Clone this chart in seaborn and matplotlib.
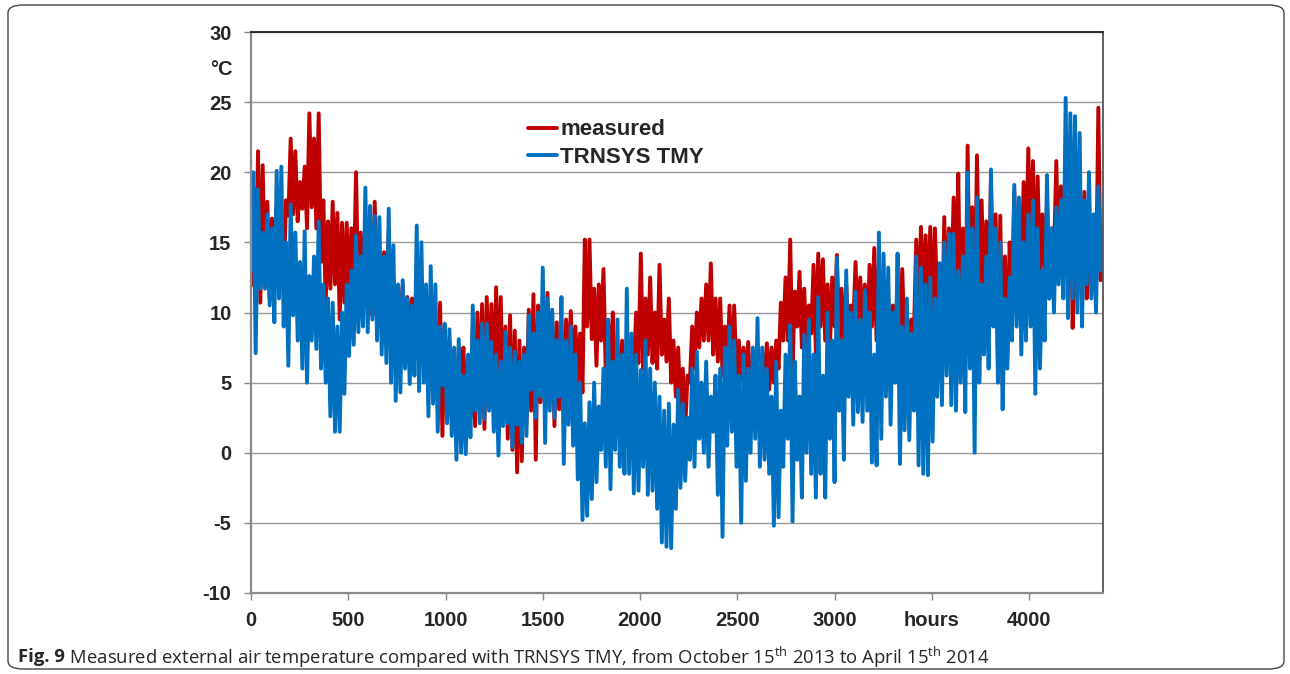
import matplotlib
matplotlib.use("Agg")
import matplotlib.pyplot as plt
import seaborn as sns
import pandas as pd
from matplotlib.patches import FancyBboxPatch
from matplotlib.transforms import blended_transform_factory

# ---- data: daily max / min (deg C), one value per day ----
meas_max = [19.0, 21.5, 20.5, 17.9, 16.7, 17.5, 16.5, 18.0, 22.4, 21.5,
            19.3, 20.4, 24.2, 22.4, 24.2, 18.0, 16.5, 17.9, 17.1, 16.4,
            16.4, 16.0, 20.0, 15.7, 16.4, 15.0, 17.9, 14.0, 14.3, 15.9,
            12.5, 11.9, 11.9, 11.1, 11.0, 11.5, 11.0, 10.5, 10.0, 9.5,
            10.7, 9.0, 8.0, 6.5, 7.5, 7.5, 6.0, 9.0, 10.0, 10.6,
            11.1, 10.6, 11.8, 11.1, 9.0, 9.8, 8.7, 8.0, 7.5, 10.2,
            11.3, 10.5, 8.5, 11.4, 10.0, 9.3, 8.5, 9.5, 10.1, 9.0,
            8.5, 15.2, 15.2, 11.7, 12.0, 13.1, 9.3, 10.0, 7.4, 8.0,
            6.1, 7.9, 10.0, 14.2, 11.0, 12.5, 10.0, 13.4, 9.5, 11.0,
            8.0, 7.5, 6.0, 5.5, 9.0, 10.0, 11.0, 12.0, 13.5, 11.0,
            11.0, 9.0, 10.5, 10.5, 8.0, 7.5, 7.9, 6.5, 7.5, 7.0,
            7.8, 7.5, 8.0, 10.7, 12.5, 15.2, 11.5, 12.9, 11.7, 10.5,
            13.4, 14.2, 13.8, 12.0, 12.5, 14.1, 11.7, 12.0, 10.5, 13.6,
            12.5, 12.0, 13.4, 14.6, 13.4, 12.0, 11.0, 10.5, 12.0, 13.1,
            10.0, 9.5, 15.2, 16.1, 15.5, 16.1, 16.0, 13.5, 16.8, 16.0,
            18.2, 19.9, 16.0, 21.9, 17.5, 21.2, 18.0, 16.5, 19.5, 17.0,
            16.9, 14.0, 15.0, 18.6, 17.0, 19.3, 21.7, 20.8, 19.7, 17.0,
            18.0, 16.0, 20.8, 19.0, 20.0, 22.0, 15.5, 17.5, 18.6, 16.0,
            16.0, 24.6, 16.0]
meas_min = [11.9, 11.1, 10.7, 12.5, 11.0, 15.1, 13.0, 12.0, 16.9, 17.0,
            16.5, 17.4, 16.0, 17.5, 16.0, 13.6, 10.7, 11.7, 12.0, 9.5,
            10.7, 11.0, 12.0, 10.7, 11.5, 10.5, 9.8, 10.0, 9.0, 10.0,
            9.5, 9.0, 8.3, 8.5, 8.0, 8.5, 7.5, 7.0, 6.0, 5.7,
            3.0, 1.2, 3.0, 2.5, 1.9, 5.1, 3.0, 2.5, 1.9, 3.0,
            1.7, 4.0, 3.5, 4.5, 2.0, 1.0, 0.2, -1.4, -0.6, 2.0,
            3.0, -0.5, 3.6, 3.0, 5.0, 1.9, 3.1, 4.0, 5.5, 5.2,
            5.0, 4.3, 9.0, 8.1, 6.2, 8.0, 5.5, 6.0, 1.7, 5.0,
            4.0, 6.2, 6.0, 6.4, 6.0, 7.0, 6.4, 6.0, 7.0, 6.5,
            5.0, 4.0, 3.0, 1.6, 5.0, 6.0, 7.5, 8.0, 8.0, 7.0,
            6.5, 5.5, 6.0, 5.0, 5.5, 5.2, 5.0, 4.0, 5.0, 5.5,
            5.5, 4.5, 5.0, 6.0, 8.0, 8.0, 6.0, 9.0, 7.5, 7.0,
            8.5, 7.0, 9.0, 8.0, 7.5, 9.0, 8.0, 7.5, 8.5, 9.0,
            8.0, 9.0, 7.5, 9.0, 8.0, 7.0, 6.5, 6.0, 8.0, 8.5,
            7.5, 7.0, 8.5, 9.0, 10.0, 9.5, 9.0, 11.0, 8.0, 10.0,
            11.0, 12.0, 8.0, 6.8, 10.0, 9.0, 12.0, 11.0, 10.0, 9.5,
            6.4, 4.8, 6.8, 11.0, 12.0, 12.0, 13.0, 14.0, 11.0, 12.5,
            13.0, 11.0, 14.0, 12.5, 13.0, 14.0, 8.9, 11.2, 12.0, 11.0,
            12.0, 11.5, 12.3]
tmy_max = [20.0, 18.8, 15.7, 17.0, 16.0, 20.1, 20.4, 15.0, 17.7, 15.7,
           13.6, 15.8, 12.6, 14.0, 16.5, 12.0, 11.0, 10.7, 9.0, 10.0,
           12.0, 13.0, 15.5, 14.0, 18.9, 17.6, 16.9, 16.8, 14.0, 17.4,
           14.8, 12.0, 12.3, 11.0, 10.5, 16.2, 15.0, 12.0, 13.3, 12.0,
           9.0, 9.2, 8.8, 7.5, 8.1, 5.5, 7.0, 10.5, 8.0, 9.2,
           9.2, 7.9, 7.0, 6.5, 8.6, 7.5, 7.2, 6.5, 7.0, 9.8,
           8.5, 10.0, 13.2, 11.0, 10.2, 8.0, 11.1, 8.0, 9.0, 7.0,
           5.0, 2.1, 3.6, 5.0, 3.3, 6.0, 9.5, 6.5, 9.5, 7.0,
           11.7, 8.5, 7.0, 5.9, 8.0, 6.0, 5.0, 4.0, 3.0, 3.5,
           2.0, 4.5, 3.5, 2.5, 6.0, 7.2, 5.0, 6.5, 4.0, 5.5,
           6.0, 7.5, 9.0, 8.0, 5.5, 7.0, 6.0, 7.5, 9.6, 7.5,
           6.0, 4.0, 6.5, 3.0, 7.0, 9.1, 6.5, 4.0, 8.4, 9.5,
           7.0, 11.1, 5.5, 10.0, 8.0, 13.9, 8.0, 13.0, 10.0, 11.5,
           9.5, 11.6, 10.0, 7.0, 15.7, 14.2, 13.2, 10.0, 14.2, 9.0,
           11.0, 8.5, 14.0, 13.2, 12.0, 12.5, 11.0, 13.5, 15.0, 15.6,
           15.6, 13.0, 14.0, 20.0, 16.0, 18.2, 12.0, 14.0, 20.2, 16.0,
           15.0, 11.0, 12.5, 19.1, 18.2, 15.0, 17.0, 18.0, 16.0, 13.0,
           19.8, 16.0, 17.5, 18.0, 25.3, 24.2, 24.0, 22.8, 18.0, 20.0,
           17.0, 19.0, 16.0]
tmy_min = [13.0, 7.1, 11.7, 11.7, 10.5, 9.3, 11.0, 9.0, 6.2, 9.8,
           8.0, 6.0, 5.0, 8.0, 7.4, 6.0, 5.0, 2.6, 1.5, 1.5,
           4.2, 6.9, 7.7, 8.6, 9.0, 8.6, 9.5, 8.0, 7.0, 6.4,
           5.0, 3.7, 4.3, 6.0, 4.9, 5.5, 4.4, 5.0, 2.6, 3.5,
           1.5, 4.8, 2.1, 1.2, -0.5, 0.0, -0.1, 1.1, 3.0, 2.1,
           2.4, 3.0, 1.5, -0.2, 1.9, 2.1, 0.4, 2.0, 0.7, 1.2,
           4.5, 2.5, 4.0, 0.7, 3.0, 2.5, 4.0, -0.8, 2.0, 0.5,
           -1.9, -4.8, -4.5, -3.3, -2.1, 0.2, -1.0, -2.6, 0.2, -1.0,
           -1.5, -1.5, -2.9, -2.7, -1.0, -3.0, -2.7, -4.0, -6.4, -6.7,
           -6.8, -4.0, -2.5, -2.0, -0.5, -1.0, 1.0, 0.0, -1.0, 1.5,
           -3.0, -6.0, 0.5, 1.5, -1.0, -5.0, -2.0, 0.0, 1.0, -1.0,
           -0.5, -1.5, -5.2, -4.6, -1.0, 1.0, -4.9, -0.5, -3.2, 0.0,
           -1.5, -3.2, -1.5, -3.2, 1.0, -2.1, 3.0, -0.5, 4.0, 2.0,
           2.9, 2.2, 3.0, -0.7, -0.9, 1.0, 4.0, 2.0, 5.0, -0.8,
           1.6, 0.9, 3.0, -0.9, -1.5, -1.6, 0.8, 4.0, 3.4, 5.5,
           3.4, 3.0, 5.0, 2.9, 6.0, 0.0, 5.0, 7.0, 6.0, 9.0,
           5.0, 3.1, 6.0, 8.0, 9.0, 7.0, 8.0, 9.0, 4.2, 6.0,
           8.0, 11.0, 10.0, 12.0, 11.0, 9.6, 11.0, 10.0, 9.0, 12.0,
           11.0, 10.0, 13.0]

series_names = ["measured", "TRNSYS TMY"]
series_colors = ["#C00000", "#0070C0"]
x_ticks = [0, 500, 1000, 1500, 2000, 2500, 3000, 3500, 4000]
x_tick_labels = ["0", "500", "1000", "1500", "2000", "2500", "3000", "hours", "4000"]
y_ticks = [-10, -5, 0, 5, 10, 15, 20, 25, 30]
y_unit = "°C"
caption_bold = "Fig. 9"
caption_text = (" Measured external air temperature compared with TRNSYS TMY, from October 15$^{\\mathregular{th}}$"
                " 2013 to April 15$^{\\mathregular{th}}$ 2014")


def zigzag(lo, hi):
    out = []
    for a, b in zip(lo, hi):
        out += [a, b]
    return out


n_samples = 2 * len(meas_max)
hours = [12 * i for i in range(n_samples)]
df = pd.DataFrame({
    "hours": hours + hours,
    "temp": zigzag(meas_min, meas_max) + zigzag(tmy_min, tmy_max),
    "series": [series_names[0]] * n_samples + [series_names[1]] * n_samples,
})

sns.set_theme(style="white")
plt.rcParams["font.family"] = ["Liberation Sans", "DejaVu Sans"]
plt.rcParams["mathtext.fontset"] = "custom"
plt.rcParams["mathtext.rm"] = "Open Sans"

fig = plt.figure(figsize=(12.9, 6.74), dpi=100)
ax = fig.add_axes([251 / 1290, 1 - 593 / 674, (1103 - 251) / 1290, (593 - 32) / 674])

sns.lineplot(data=df, x="hours", y="temp", hue="series", palette=series_colors,
             estimator=None, sort=False, linewidth=2.8, ax=ax)

ax.set_xlim(0, 4380)
ax.set_ylim(-10, 30)
ax.set_xticks(x_ticks)
ax.set_xticklabels(x_tick_labels)
ax.set_yticks(y_ticks)
ax.set_yticklabels([str(v) for v in y_ticks])
ax.set_xlabel("")
ax.set_ylabel("")
ax.grid(axis="y", color="#9a9a9a", linewidth=1.0)
ax.set_axisbelow(True)
for lab in ax.get_xticklabels() + ax.get_yticklabels():
    lab.set_fontweight("bold")
    lab.set_fontsize(14.5)
ax.tick_params(axis="both", which="major", length=5, width=1, color="#888888",
               direction="out", bottom=True, left=True, pad=8)
ax.tick_params(axis="y", pad=9)
for side in ["left", "bottom"]:
    ax.spines[side].set_color("#8a8a8a")
    ax.spines[side].set_linewidth(1.6)
ax.spines["top"].set_color("#222222")
ax.spines["top"].set_linewidth(1.3)
ax.spines["right"].set_color("#555555")
ax.spines["right"].set_linewidth(1.3)

trans = blended_transform_factory(ax.transAxes, ax.transData)
ax.text(-0.022, 27.3, y_unit, transform=trans, ha="right", va="center",
        fontsize=14.5, fontweight="bold")

leg = ax.legend(loc="upper left", bbox_to_anchor=(0.307, 0.872), frameon=False,
                handlelength=1.3, handletextpad=0.15, labelspacing=0.3,
                borderpad=0.2, prop={"weight": "bold", "size": 16})
for line in leg.get_lines():
    line.set_linewidth(2.8)

# caption and rounded frame
frame = FancyBboxPatch((8 / 1290, 5 / 674), (1284 - 8) / 1290, (669 - 5) / 674,
                       boxstyle="round,pad=0,rounding_size=0.012",
                       transform=fig.transFigure, fill=False,
                       edgecolor="#444444", linewidth=1.0)
fig.patches.append(frame)
t1 = fig.text(18 / 1290, 1 - 657 / 674, caption_bold, fontsize=13.3, fontweight="bold",
              family=["Open Sans", "DejaVu Sans"], va="center", ha="left")
fig.canvas.draw()
bb = t1.get_window_extent()
fig.text(bb.x1 / 1290, 1 - 657 / 674, caption_text, fontsize=13.3,
         family=["Open Sans", "DejaVu Sans"], va="center", ha="left")

fig.savefig("out.png", dpi=100)
